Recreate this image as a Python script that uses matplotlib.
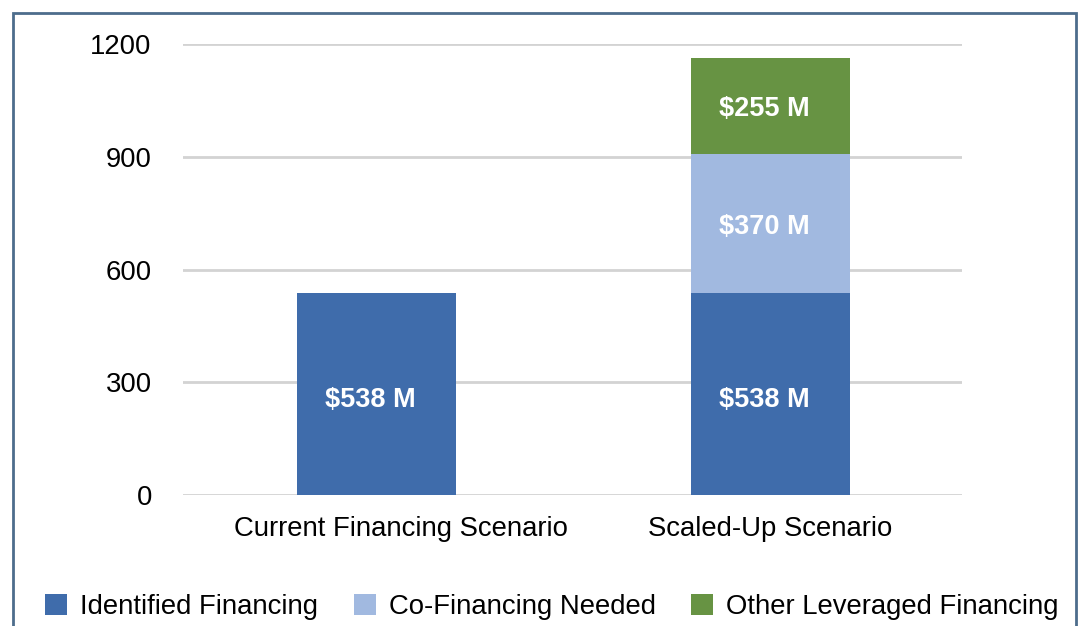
import numpy as np
import matplotlib.pyplot as plt
import matplotlib.transforms as mtransforms
from matplotlib.patches import Rectangle, Patch

plt.rcParams['font.family'] = ['Liberation Sans', 'DejaVu Sans']

# datos
escenarios = ['Current Financing Scenario', 'Scaled-Up Scenario']
series = ['Identified Financing', 'Co-Financing Needed', 'Other Leveraged Financing']
identified = [538, 538]
cofinancing = [0, 370]
other = [0, 255]
etiquetas = {
    'Identified Financing': ['$538 M', '$538 M'],
    'Co-Financing Needed': [None, '$370 M'],
    'Other Leveraged Financing': [None, '$255 M'],
}
colores = ['#3F6CAB', '#A1B9E0', '#679343']
yticks = [0, 300, 600, 900, 1200]

fig = plt.figure(figsize=(10.8, 6.26), dpi=100)
ax = fig.add_axes([183 / 1080, 1 - 495 / 626, (962 - 183) / 1080, (495 - 44) / 626])

x = np.arange(len(escenarios))
ancho = 0.404
bottom = np.zeros(len(escenarios))
for nombre, vals, c in zip(series, [identified, cofinancing, other], colores):
    vals = np.array(vals, dtype=float)
    bars = ax.bar(x, vals, ancho, bottom=bottom, color=c, zorder=3)
    for i, b in enumerate(bars):
        txt = etiquetas[nombre][i]
        if txt and vals[i] > 0:
            ax.annotate(txt, (b.get_x() + b.get_width() / 2, bottom[i] + vals[i] * 0.47),
                        xytext=(-4.3, 0), textcoords='offset points',
                        ha='center', va='center', color='white', fontsize=19.5,
                        fontweight='bold', zorder=4)
    bottom += vals

ax.set_xlim(-0.491, 1.486)
ax.set_ylim(0, 1200)
ax.set_yticks(yticks)
ax.set_xticks(x)
ax.set_xticklabels(escenarios)
ax.tick_params(axis='both', length=0, labelsize=19.8, colors='black')
ax.tick_params(axis='y', pad=22.5)
ax.tick_params(axis='x', pad=15)
ax.grid(axis='y', color='#D3D3D3', linewidth=2, zorder=0)
for s in ax.spines.values():
    s.set_visible(False)

# la primera etiqueta del eje x va algo desplazada a la derecha en el original
lbl = ax.get_xticklabels()[0]
lbl.set_transform(lbl.get_transform() + mtransforms.ScaledTranslation(0.24, 0, fig.dpi_scale_trans))

handles = [Patch(facecolor=c, edgecolor='none') for c in colores]
fig.legend(handles, series, loc='center', bbox_to_anchor=(552 / 1080, 1 - 607 / 626),
           ncol=3, frameon=False, fontsize=19.8, handlelength=0.8, handleheight=0.8,
           handletextpad=0.47, columnspacing=1.3)

# marco
fig.patches.append(Rectangle((13 / 1080, -0.05), (1076 - 13) / 1080, 1.05 - 13 / 626,
                             transform=fig.transFigure, fill=False,
                             edgecolor='#4D6D8C', linewidth=2))

fig.savefig('out.png', dpi=100)
